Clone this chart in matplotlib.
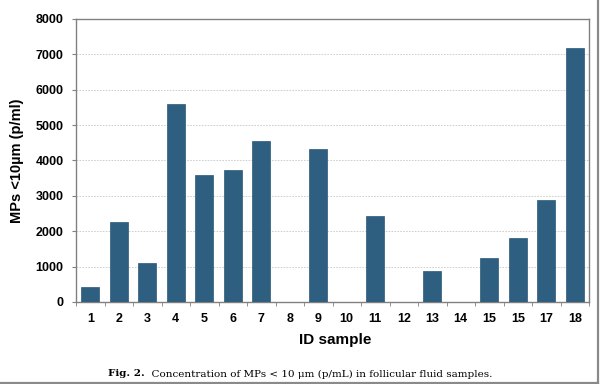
import matplotlib
matplotlib.use("Agg")
import matplotlib.pyplot as plt
from matplotlib.lines import Line2D

labels = ["1", "2", "3", "4", "5", "6", "7", "8", "9", "10", "11", "12",
          "13", "14", "15", "15", "17", "18"]
values = [430, 2260, 1100, 5590, 3580, 3720, 4550, 0, 4320, 0, 2430, 0,
          890, 0, 1230, 1810, 2870, 7170]
yticks = [0, 1000, 2000, 3000, 4000, 5000, 6000, 7000, 8000]

bar_color = "#2E5F80"
grey = "#808080"

fig = plt.figure(figsize=(6, 3.84), dpi=100)
ax = fig.add_axes([76/600, 1 - 302/384, (589-76)/600, (302-19)/384])

x = list(range(len(values)))
ax.bar(x, values, width=0.64, color=bar_color, edgecolor="#2a5878", linewidth=0.5, zorder=3)
ax.set_xlim(-0.5, len(values) - 0.5)
ax.set_ylim(0, 8000)
ax.set_yticks(yticks)
ax.set_yticklabels([str(v) for v in yticks], fontfamily="Liberation Sans",
                   fontweight="bold", fontsize=9)
ax.set_xticks(x)
ax.set_xticklabels(labels, fontfamily="Liberation Sans", fontweight="bold", fontsize=9)
ax.tick_params(axis="x", length=0, pad=8)
ax.set_xticks([i - 0.5 for i in range(len(values) + 1)], minor=True)
ax.tick_params(axis="x", which="minor", length=3, color=grey, direction="out")
ax.tick_params(axis="y", length=3, color=grey, direction="out", pad=6)
ax.grid(axis="y", color="#c8c8c8", linestyle=(0, (2, 1.5)), linewidth=0.6, zorder=0)
for s in ax.spines.values():
    s.set_color(grey)
    s.set_linewidth(1.0)

ax.set_ylabel("MPs <10µm (p/ml)", fontfamily="Liberation Sans", fontweight="bold",
              fontsize=10.5, labelpad=8)
fig.text(335/600, 1 - 340/384, "ID sample", ha="center", va="center",
         fontfamily="Liberation Sans", fontweight="bold", fontsize=11)

# caption: bold "Fig. 2." followed by regular text, centered as a whole
renderer = fig.canvas.get_renderer()
cap_y = 1 - 374/384
t1 = fig.text(0, cap_y, "Fig. 2.", ha="left", va="center",
              fontfamily="DejaVu Serif", fontweight="bold", fontsize=7.5)
t2 = fig.text(0, cap_y, "  Concentration of MPs < 10 μm (p/mL) in follicular fluid samples.",
              ha="left", va="center", fontfamily="DejaVu Serif", fontsize=7.5)
w1 = t1.get_window_extent(renderer).width
w2 = t2.get_window_extent(renderer).width
total = w1 + w2
start = 300 - total / 2
t1.set_x(start / 600)
t2.set_x((start + w1) / 600)

fig.add_artist(Line2D([597.5/600, 597.5/600], [1 - 383/384, 1], transform=fig.transFigure,
                      color="#8a8a8a", linewidth=1.6))
fig.add_artist(Line2D([0, 598/600], [1 - 382.7/384, 1 - 382.7/384], transform=fig.transFigure,
                      color="#8a8a8a", linewidth=1.6))

fig.savefig("out.png", dpi=100)
